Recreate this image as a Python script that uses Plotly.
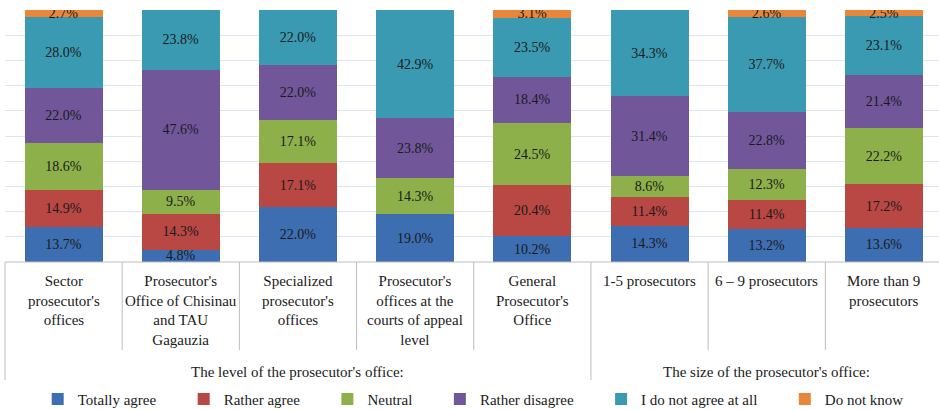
import plotly.graph_objects as go

categories = [
    "Sector<br>prosecutor's<br>offices",
    "Prosecutor's<br>Office of Chisinau<br>and TAU<br>Gagauzia",
    "Specialized<br>prosecutor's<br>offices",
    "Prosecutor's<br>offices at the<br>courts of appeal<br>level",
    "General<br>Prosecutor's<br>Office",
    "1-5 prosecutors",
    "6 – 9 prosecutors",
    "More than 9<br>prosecutors",
]
groups = ["The level of the prosecutor's office:", "The size of the prosecutor's office:"]
group_sizes = [5, 3]

totally_agree = [13.7, 4.8, 22.0, 19.0, 10.2, 14.3, 13.2, 13.6]
rather_agree = [14.9, 14.3, 17.1, 0, 20.4, 11.4, 11.4, 17.2]
neutral = [18.6, 9.5, 17.1, 14.3, 24.5, 8.6, 12.3, 22.2]
rather_disagree = [22.0, 47.6, 22.0, 23.8, 18.4, 31.4, 22.8, 21.4]
not_agree_at_all = [28.0, 23.8, 22.0, 42.9, 23.5, 34.3, 37.7, 23.1]
do_not_know = [2.7, 0, 0, 0, 3.1, 0, 2.6, 2.5]

series = [
    ("Totally agree", totally_agree, "#3D6EB1"),
    ("Rather agree", rather_agree, "#B94744"),
    ("Neutral", neutral, "#8DB04B"),
    ("Rather disagree", rather_disagree, "#71579A"),
    ("I do not agree at all", not_agree_at_all, "#3A9AB2"),
    ("Do not know", do_not_know, "#E8873A"),
]

FONT = "'Liberation Serif', 'Times New Roman', serif"
XR = [-0.5, 7.47]
x = list(range(len(categories)))
NB = "\u00a0" * 6


def px(v):
    # data x -> paper x
    return (v - XR[0]) / (XR[1] - XR[0])


fig = go.Figure()
for i, (name, vals, color) in enumerate(series):
    label = name if i == len(series) - 1 else name + NB
    fig.add_trace(go.Bar(
        x=x, y=vals, name=label, marker=dict(color=color, line=dict(width=0)),
        text=[f"{v:.1f}%" if v else "" for v in vals],
        textposition="inside", insidetextanchor="middle", textangle=0,
        textfont=dict(family=FONT, size=14, color="#1a1a1a"),
        width=0.665, hoverinfo="skip",
    ))

shapes = []
# table lines under the axis
shapes.append(dict(type="line", xref="paper", yref="paper", x0=0, x1=1, y0=0, y1=0,
                   line=dict(color="#BDBDBD", width=1)))
for k in range(len(categories) + 1):
    xb = k - 0.5
    long_line = k in (0, group_sizes[0])
    shapes.append(dict(type="line", xref="paper", yref="paper", x0=px(xb), x1=px(xb),
                       y0=0, y1=-0.468 if long_line else -0.349,
                       line=dict(color="#BDBDBD", width=1)))

annotations = []
for i, c in enumerate(categories):
    annotations.append(dict(x=px(i), y=-0.035, xref="paper", yref="paper", text=c,
                            showarrow=False, yanchor="top", xanchor="center",
                            font=dict(family=FONT, size=15, color="#1a1a1a")))
start = 0
for g, n in zip(groups, group_sizes):
    mid = start + (n - 1) / 2
    annotations.append(dict(x=px(mid), y=-0.437, xref="paper", yref="paper", text=g,
                            showarrow=False, yanchor="middle", xanchor="center",
                            font=dict(family=FONT, size=15, color="#1a1a1a")))
    start += n

fig.update_layout(
    width=939, height=410, barmode="stack",
    margin=dict(l=5, r=0, t=10, b=148, autoexpand=False),
    paper_bgcolor="white", plot_bgcolor="white",
    font=dict(family=FONT),
    xaxis=dict(range=XR, showticklabels=False, showgrid=False, zeroline=False, ticks=""),
    yaxis=dict(range=[0, 100], dtick=10, showticklabels=False, showgrid=True,
               gridcolor="#DDE6F0", gridwidth=1, zeroline=False, ticks=""),
    uniformtext=dict(minsize=14, mode="show"),
    shapes=shapes, annotations=annotations,
    showlegend=True,
    legend=dict(orientation="h", x=0.035, xanchor="left", y=-0.545, yanchor="middle",
                font=dict(family=FONT, size=15, color="#1a1a1a"), traceorder="normal",
                itemwidth=30, bgcolor="rgba(0,0,0,0)"),
)

fig.write_html("out.html", config={"displayModeBar": False},
               post_script="document.body.style.margin='0';")
